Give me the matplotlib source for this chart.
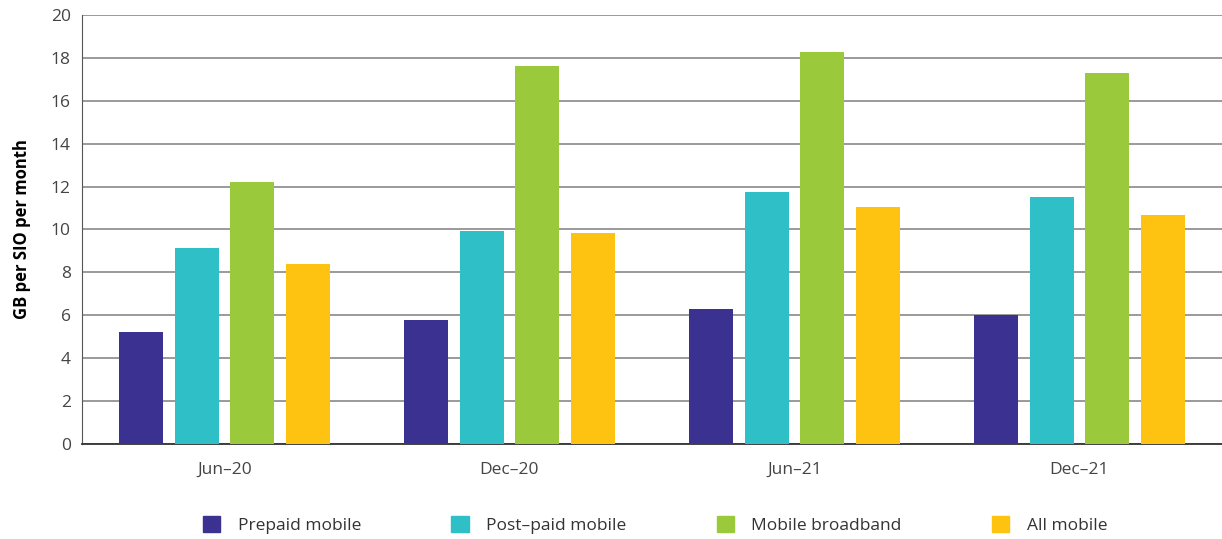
import numpy as np
import matplotlib.pyplot as plt
from matplotlib.patches import Patch

plt.rcParams['font.family'] = ['Open Sans', 'DejaVu Sans']

periods = ['Jun–20', 'Dec–20', 'Jun–21', 'Dec–21']
series = ['Prepaid mobile', 'Post–paid mobile', 'Mobile broadband', 'All mobile']
prepaid = [5.22, 5.78, 6.29, 6.01]
postpaid = [9.14, 9.93, 11.75, 11.50]
broadband = [12.20, 17.60, 18.27, 17.30]
all_mobile = [8.39, 9.84, 11.05, 10.68]
colors = ['#3B3190', '#2FBFC6', '#9BC93C', '#FEC310']

values = [prepaid, postpaid, broadband, all_mobile]

fig = plt.figure(figsize=(12.22, 5.39), dpi=100)
ax = fig.add_axes([0.0671, 0.1763, 0.9329, 0.7959])

x = np.arange(len(periods))
pitch = 0.195
width = 0.154
for i, (vals, c) in enumerate(zip(values, colors)):
    ax.bar(x + (i - 1.5) * pitch, vals, width, color=c, zorder=3)

ax.set_xlim(-0.5, 3.5)
ax.set_ylim(0, 20)
ax.set_yticks(range(0, 21, 2))
ax.set_xticks(x)
ax.set_xticklabels(periods)
ax.yaxis.grid(True, color='#9a9a9a', linewidth=1.4, zorder=0)
ax.tick_params(axis='both', labelsize=12.5, colors='#444444', length=0, pad=8)
ax.tick_params(axis='x', pad=13)
for s in ['top', 'right']:
    ax.spines[s].set_visible(False)
ax.spines['left'].set_color('#555555')
ax.spines['bottom'].set_color('#333333')
ax.spines['bottom'].set_linewidth(1.3)
ax.set_ylabel('GB per SIO per month', fontsize=12, fontweight='bold', color='black', labelpad=14)

handles = [Patch(color=c) for c in colors]
fig.legend(handles, series, loc='center', bbox_to_anchor=(0.536, 0.026), ncol=4,
           frameon=False, fontsize=12.5, handlelength=1.0, handleheight=1.0,
           columnspacing=5.2, handletextpad=1.0, labelcolor='#333333')

fig.savefig('out.png', dpi=100)
